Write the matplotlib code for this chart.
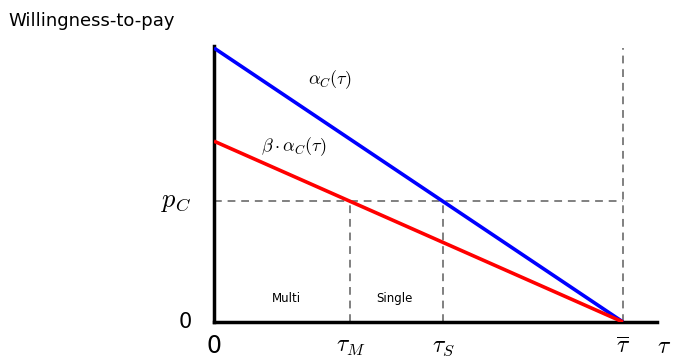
import numpy as np
import matplotlib
matplotlib.use("Agg")
import matplotlib.pyplot as plt

plt.rcParams['mathtext.fontset'] = 'cm'
plt.rcParams['font.family'] = ['DejaVu Sans']

# Model values (tau normalised so that tau_bar = 1, alpha_C(0) = 1)
tau_bar = 1.0
alpha0 = 1.0      # intercept of alpha_C(tau)
beta = 0.66       # beta * alpha_C(tau)
p_C = 0.44        # price
tau_M = 1 - p_C / (beta * alpha0)
tau_S = 1 - p_C / alpha0

tick_pos = [0, tau_M, tau_S, tau_bar]
tick_labels = ["0", r"$\tau_M$", r"$\tau_S$", r"$\overline{\tau}$"]

x = np.array([0, tau_bar])
alpha = alpha0 * (1 - x / tau_bar)
beta_alpha = beta * alpha

fig = plt.figure(figsize=(6.74, 3.6), dpi=100)
ax = fig.add_axes([214/674, 38/360, 443/674, 276/360])
ax.set_xlim(0, 443/409)
ax.set_ylim(0, 276/274)

ax.plot(x, alpha, color='#0000ff', lw=2.6, solid_capstyle='butt', zorder=3)
ax.plot(x, beta_alpha, color='#ff0000', lw=2.6, solid_capstyle='butt', zorder=3)

# Dashed guides
dash = dict(color='gray', ls=(0, (4, 3)), lw=1.4, zorder=1)
ax.plot([0, tau_bar], [p_C, p_C], **dash)
ax.plot([tau_M, tau_M], [0, p_C], **dash)
ax.plot([tau_S, tau_S], [0, p_C], **dash)
ax.plot([tau_bar, tau_bar], [0, 1.0], **dash)

for s in ['top', 'right']:
    ax.spines[s].set_visible(False)
for s in ['left', 'bottom']:
    ax.spines[s].set_linewidth(2.5)
ax.set_xticks([])
ax.set_yticks([])

# Tick-style labels
for xp, lab in zip(tick_pos, tick_labels):
    ax.text(xp, -0.045, lab, ha='center', va='top', fontsize=17)
ax.text(443/409 + 0.018, -0.045, r"$\tau$", ha='center', va='top', fontsize=17)
ax.text(-0.055, 0, "0", ha='right', va='center', fontsize=15)
ax.text(-0.055, p_C, r"$p_C$", ha='right', va='center', fontsize=19)

# Curve labels
ax.text(0.23, 0.885, r"$\alpha_C(\tau)$", ha='left', va='center', fontsize=13)
ax.text(0.115, 0.64, r"$\beta \cdot \alpha_C(\tau)$", ha='left', va='center', fontsize=13)

# Region labels
ax.text(0.178, 0.085, "Multi", ha='center', va='center', fontsize=8.5)
ax.text(0.44, 0.085, "Single", ha='center', va='center', fontsize=8.5)

fig.text(8/674, 1 - 21/360, "Willingness-to-pay", ha='left', va='center', fontsize=13)

fig.savefig("out.png", dpi=100)
